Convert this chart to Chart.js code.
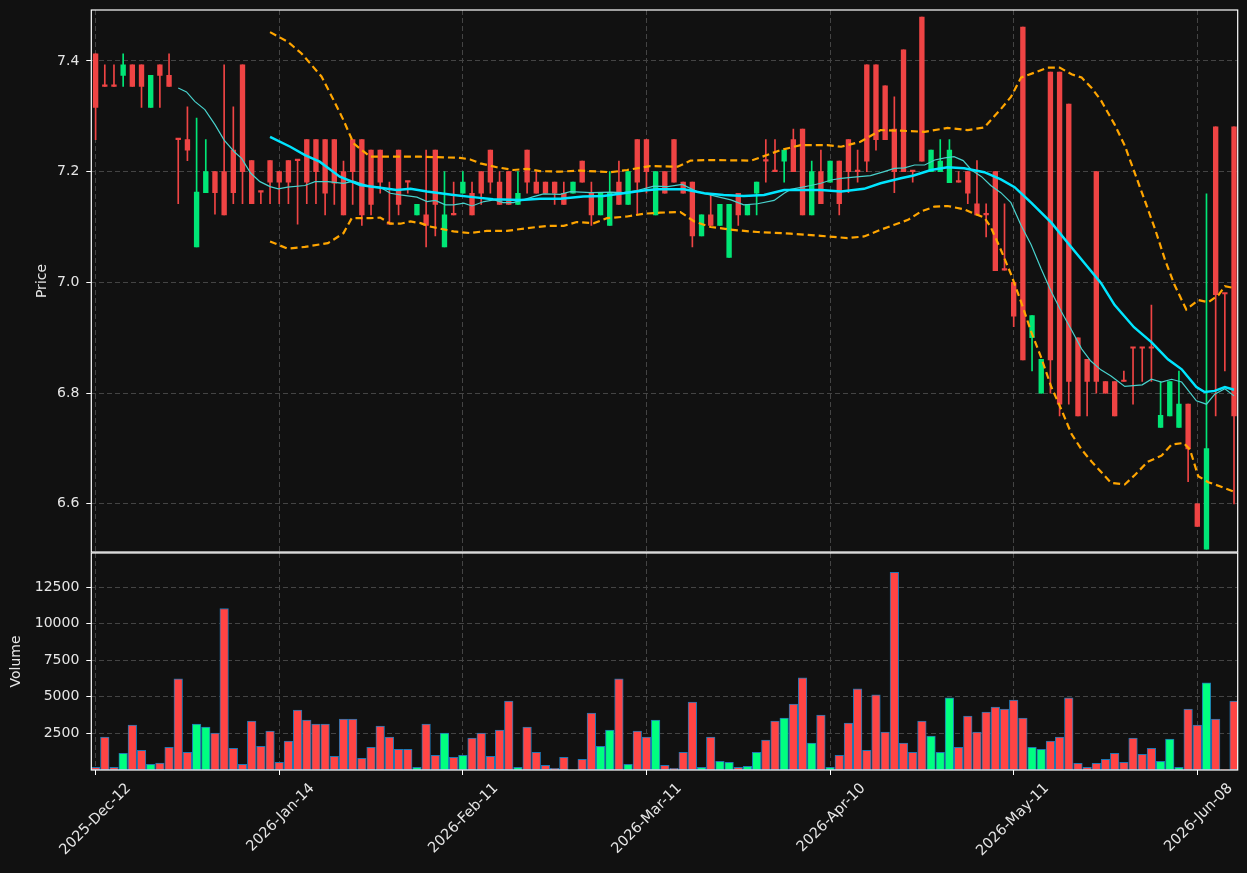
<!DOCTYPE html>
<html>
<head>
<meta charset="utf-8">
<script src="https://cdn.jsdelivr.net/npm/chart.js@4.4.0/dist/chart.umd.min.js"></script>
<style>
  body { margin: 0; background: #111111; }
  #priceChart { position: absolute; left: 0; top: 0; }
  #volChart { position: absolute; left: 0; top: 552px; }
</style>
</head>
<body>
<canvas id="priceChart" width="1247" height="553"></canvas>
<canvas id="volChart" width="1247" height="321"></canvas>
<script>
// daily candles, index 0 = 2025-Dec-12
var opens = [7.413,7.354,7.354,7.374,7.393,7.393,7.316,7.393,7.374,7.258,
  7.258,7.064,7.162,7.2,7.2,7.239,7.393,7.220,7.163,7.220,
  7.2,7.220,7.220,7.258,7.258,7.258,7.258,7.2,7.258,7.258,
  7.239,7.239,7.105,7.239,7.181,7.122,7.122,7.239,7.064,7.122,
  7.161,7.161,7.2,7.239,7.181,7.2,7.141,7.239,7.181,7.181,
  7.181,7.161,7.161,7.219,7.161,7.122,7.103,7.181,7.141,7.258,
  7.258,7.122,7.2,7.258,7.181,7.181,7.084,7.122,7.103,7.045,
  7.161,7.122,7.161,7.219,7.2,7.219,7.258,7.277,7.122,7.2,
  7.181,7.219,7.258,7.2,7.393,7.393,7.355,7.277,7.42,7.2,
  7.479,7.2,7.2,7.18,7.181,7.2,7.142,7.122,7.2,7.022,
  7.0,7.461,6.9,6.8,7.38,7.38,7.322,6.9,6.861,7.2,
  6.821,6.821,6.821,6.881,6.881,6.881,6.738,6.759,6.738,6.78,
  6.6,6.518,7.281,6.979,7.281];
var highs = [7.413,7.393,7.393,7.413,7.393,7.393,7.374,7.393,7.413,7.258,
  7.317,7.297,7.258,7.2,7.393,7.317,7.393,7.220,7.163,7.220,
  7.2,7.220,7.220,7.258,7.258,7.258,7.258,7.219,7.258,7.258,
  7.239,7.239,7.181,7.239,7.181,7.141,7.239,7.239,7.2,7.181,
  7.2,7.181,7.2,7.239,7.2,7.2,7.2,7.239,7.2,7.181,
  7.181,7.181,7.181,7.219,7.181,7.161,7.2,7.219,7.2,7.258,
  7.258,7.2,7.2,7.258,7.181,7.181,7.122,7.161,7.141,7.141,
  7.161,7.141,7.181,7.258,7.258,7.239,7.277,7.277,7.219,7.239,
  7.219,7.219,7.258,7.239,7.393,7.393,7.355,7.335,7.42,7.2,
  7.479,7.239,7.258,7.258,7.2,7.2,7.220,7.142,7.2,7.142,
  7.0,7.461,6.94,6.861,7.38,7.38,7.322,6.9,6.861,7.2,
  6.821,6.821,6.84,6.881,6.881,6.959,6.821,6.821,6.84,6.78,
  6.6,7.16,7.281,6.979,7.281];
var lows = [7.258,7.354,7.354,7.354,7.354,7.316,7.316,7.316,7.354,7.142,
  7.220,7.064,7.162,7.123,7.122,7.142,7.142,7.142,7.142,7.142,
  7.142,7.142,7.105,7.142,7.142,7.122,7.141,7.122,7.141,7.103,
  7.122,7.161,7.105,7.122,7.161,7.122,7.064,7.084,7.064,7.122,
  7.161,7.122,7.141,7.161,7.141,7.141,7.141,7.161,7.161,7.161,
  7.141,7.141,7.161,7.181,7.103,7.122,7.103,7.141,7.141,7.122,
  7.161,7.122,7.161,7.181,7.161,7.064,7.084,7.103,7.103,7.045,
  7.103,7.122,7.122,7.181,7.2,7.181,7.2,7.122,7.122,7.142,
  7.181,7.122,7.162,7.181,7.2,7.239,7.258,7.162,7.2,7.181,
  7.219,7.2,7.2,7.18,7.181,7.142,7.122,7.082,7.021,7.022,
  6.92,6.86,6.84,6.8,6.8,6.759,6.78,6.759,6.759,6.8,
  6.8,6.759,6.821,6.78,6.821,6.821,6.738,6.759,6.738,6.64,
  6.559,6.518,6.759,6.84,6.6];
var closes = [7.316,7.354,7.354,7.393,7.354,7.354,7.374,7.374,7.354,7.258,
  7.239,7.163,7.2,7.162,7.122,7.162,7.2,7.142,7.163,7.181,
  7.181,7.181,7.220,7.181,7.2,7.161,7.179,7.122,7.2,7.122,
  7.141,7.181,7.105,7.141,7.181,7.141,7.103,7.141,7.122,7.122,
  7.181,7.122,7.161,7.181,7.141,7.141,7.161,7.181,7.161,7.161,
  7.161,7.141,7.181,7.181,7.122,7.161,7.161,7.141,7.2,7.181,
  7.2,7.2,7.161,7.181,7.161,7.084,7.122,7.103,7.141,7.141,
  7.122,7.141,7.181,7.219,7.2,7.239,7.2,7.122,7.2,7.142,
  7.219,7.142,7.2,7.2,7.219,7.258,7.258,7.2,7.2,7.2,
  7.219,7.239,7.219,7.239,7.181,7.161,7.122,7.122,7.021,7.022,
  6.939,6.86,6.94,6.861,6.86,6.78,6.821,6.759,6.821,6.821,
  6.8,6.759,6.821,6.881,6.881,6.881,6.76,6.821,6.78,6.699,
  6.559,6.7,6.978,6.979,6.759];
var volumes = [183,2244,183,1145,3069,1351,389,481,1557,6229,
  1214,3137,2931,2519,11038,1488,389,3343,1626,2656,
  527,1969,4099,3412,3137,3137,939,3481,3481,801,
  1557,3000,2244,1420,1420,183,3137,1008,2519,870,
  1008,2175,2519,939,2725,4717,183,2931,1214,320,
  115,870,0,733,3893,1626,2725,6229,389,2656,
  2244,3412,320,115,1214,4649,183,2244,595,527,
  183,252,1214,2038,3343,3550,4511,6298,1832,3756,
  183,1008,3206,5542,1351,5130,2588,13511,1832,1214,
  3343,2313,1214,4924,1557,3687,2588,3962,4305,4168,
  4786,3550,1557,1420,1969,2244,4924,458,183,458,
  733,1145,527,2175,1076,1488,595,2107,183,4168,
  3069,5954,3481,20,4717];

// overlay lines: [candle index, price]
var ma20 = [[19,7.263],[21.2,7.245],[22.8,7.230],[24.4,7.218],[26.6,7.191],[28.8,7.176],[31,7.171],[32.8,7.167],
  [34.3,7.169],[36.1,7.164],[39,7.158],[41.1,7.154],[43.3,7.150],[46.3,7.149],[48.4,7.151],[50.6,7.151],
  [53.1,7.155],[55.3,7.156],[57.5,7.161],[59.7,7.166],[61.2,7.168],[64.1,7.168],[66.3,7.161],[68.4,7.158],
  [70.6,7.156],[72.8,7.158],[75,7.167],[76.8,7.167],[79,7.167],[81.2,7.164],[83.7,7.169],[85.5,7.179],
  [87.7,7.188],[89.1,7.193],[91,7.203],[92.8,7.208],[94.6,7.206],[96.8,7.199],[98.6,7.186],[100.1,7.172],
  [101.9,7.144],[104.1,7.108],[105.9,7.071],[107.7,7.035],[109.5,6.999],[111,6.959],[113.1,6.919],[115,6.892],
  [116.8,6.861],[118.3,6.843],[119.9,6.811],[120.8,6.802],[121.9,6.804],[123,6.811],[124,6.806]];
var ma10 = [[9,7.351],[9.9,7.344],[10.8,7.327],[11.9,7.312],[13,7.285],[14,7.257],[15.1,7.236],[15.9,7.224],
  [16.9,7.197],[17.9,7.182],[19,7.173],[19.9,7.169],[20.9,7.172],[22.8,7.175],[23.9,7.182],[25.3,7.182],
  [27,7.179],[28.1,7.183],[29.9,7.173],[31,7.172],[32.1,7.161],[33.2,7.158],[35,7.154],[36.1,7.146],
  [37,7.148],[38.1,7.140],[39,7.140],[40.1,7.143],[41,7.138],[42.3,7.146],[43.4,7.149],[44.4,7.144],
  [45.5,7.144],[46.6,7.149],[47.7,7.155],[48.8,7.160],[50.6,7.159],[51.7,7.164],[54,7.162],[56.1,7.163],
  [57.5,7.162],[59,7.166],[60.8,7.174],[62.3,7.173],[63.9,7.177],[65.5,7.164],[67.7,7.155],[69.2,7.149],
  [70.6,7.140],[72.1,7.142],[73.9,7.148],[75,7.161],[75.7,7.168],[77.9,7.175],[79,7.179],[80.1,7.185],
  [81.2,7.188],[82.6,7.190],[84.4,7.193],[85.9,7.200],[87,7.206],[88.1,7.207],[89.2,7.212],[90.3,7.212],
  [91.4,7.221],[92.5,7.225],[93.5,7.227],[94.5,7.220],[95.4,7.203],[96.5,7.191],[97.5,7.175],[98.6,7.162],
  [99.7,7.144],[100.8,7.103],[101.9,7.068],[103,7.024],[104.1,6.983],[105.2,6.947],[106.3,6.914],[107.4,6.880],
  [108.4,6.858],[109.5,6.842],[110.6,6.831],[112.1,6.812],[114,6.815],[115,6.825],[116.1,6.820],[117.2,6.825],
  [118.3,6.820],[119.9,6.786],[121,6.780],[121.9,6.798],[123,6.808],[124,6.795]];
var bbUpper = [[19,7.452],[20.9,7.435],[22.4,7.414],[24.6,7.372],[25.9,7.330],[27,7.293],[28.1,7.251],[29.9,7.227],
  [31.7,7.227],[35.4,7.227],[39.7,7.225],[40.8,7.222],[41.9,7.215],[43.7,7.208],[45.5,7.203],[47,7.205],
  [48.4,7.201],[50.6,7.200],[52.8,7.202],[56.1,7.199],[57.9,7.203],[60.4,7.210],[63.4,7.209],[64.8,7.220],
  [67,7.221],[71.4,7.220],[72.8,7.228],[74.6,7.239],[76.8,7.248],[79.7,7.248],[81.2,7.245],[83.3,7.254],
  [85.5,7.275],[87.7,7.274],[90.3,7.272],[92.8,7.279],[95,7.275],[96.8,7.280],[98.6,7.313],[99.7,7.335],
  [100.8,7.370],[102.3,7.379],[103.7,7.388],[105,7.388],[106.3,7.376],[107.4,7.370],[108.5,7.351],[109.5,7.329],
  [111,7.285],[112.1,7.247],[113.2,7.197],[114.3,7.147],[115.4,7.096],[116.5,7.040],[117.5,6.996],[118.8,6.951],
  [120.1,6.968],[121.2,6.964],[122.3,6.977],[123,6.993],[124,6.990]];
var bbLower = [[19,7.074],[20.9,7.061],[22.8,7.064],[25.3,7.071],[25.9,7.077],[27,7.089],[27.9,7.116],[29.9,7.116],
  [31,7.117],[32.1,7.106],[33.2,7.106],[34.3,7.110],[35.4,7.107],[36.4,7.101],[39,7.092],[40.8,7.089],
  [42.6,7.093],[44.8,7.093],[47,7.098],[49.2,7.102],[51,7.102],[52.4,7.109],[54.3,7.107],[55.7,7.116],
  [57.9,7.119],[59.7,7.124],[61.5,7.126],[63.7,7.127],[65.2,7.110],[67,7.100],[69.9,7.094],[72.1,7.091],
  [75.7,7.088],[79,7.084],[81.9,7.080],[83.7,7.083],[85.5,7.095],[87,7.104],[88.5,7.113],[89.9,7.128],
  [91.4,7.137],[92.8,7.138],[94.6,7.132],[95.7,7.124],[96.8,7.117],[97.5,7.100],[98.6,7.059],[99.7,7.015],
  [100.8,6.965],[101.9,6.911],[103,6.864],[104.1,6.811],[105.2,6.770],[106.3,6.726],[107.4,6.698],[108.5,6.676],
  [109.5,6.658],[110.6,6.638],[112.1,6.635],[113.2,6.652],[114.6,6.676],[116.1,6.687],[117.2,6.707],[118.5,6.710],
  [119.2,6.698],[120.1,6.650],[121.2,6.639],[122.6,6.631],[124,6.622]];

var tickIdx = [0, 20, 40, 60, 80, 100, 120];
var tickLabels = ['2025-Dec-12','2026-Jan-14','2026-Feb-11','2026-Mar-11','2026-Apr-10','2026-May-11','2026-Jun-08'];
var priceTicks = [6.6, 6.8, 7.0, 7.2, 7.4];
var volTicks = [2500, 5000, 7500, 10000, 12500];

var txt = '#e6e6e6';
var gridC = '#444444';
Chart.defaults.font.family = "'DejaVu Sans', sans-serif";
Chart.defaults.font.size = 14;
Chart.defaults.color = txt;

var framePlugin = {
  id: 'frame',
  afterDraw: function(chart) {
    var a = chart.chartArea;
    var c = chart.ctx;
    c.save();
    c.strokeStyle = '#ffffff';
    c.lineWidth = 1.2;
    c.strokeRect(a.left, a.top, a.right - a.left, a.bottom - a.top);
    c.restore();
  }
};

function isUp(i) {
  return closes[i] > opens[i];
}

function pts(arr) {
  return arr.map(function(p) { return {x: p[0], y: p[1]}; });
}

function lineSet(arr, color, width, dash) {
  return {
    type: 'line',
    data: pts(arr),
    borderColor: color,
    borderWidth: width,
    borderDash: dash || [],
    pointRadius: 0,
    fill: false,
    tension: 0,
    order: 0
  };
}

function xAxis(showLabels) {
  return {
    type: 'linear',
    min: -0.47,
    max: 124.4,
    offset: false,
    afterBuildTicks: function(s) {
      s.ticks = tickIdx.map(function(v) { return {value: v}; });
    },
    afterFit: function(s) {
      s.height = showLabels ? 103 : 0;
      s.paddingLeft = 0;
      s.paddingRight = 0;
    },
    grid: {
      offset: false,
      color: gridC,
      drawTicks: showLabels,
      tickLength: 5,
      tickColor: '#ffffff'
    },
    border: { display: false, dash: [5, 3] },
    ticks: {
      display: showLabels,
      autoSkip: false,
      maxRotation: 45,
      minRotation: 45,
      padding: 5,
      labelOffset: 33,
      color: txt,
      font: { size: 14.5 },
      callback: function(v) {
        var k = tickIdx.indexOf(v);
        return k >= 0 ? tickLabels[k] : '';
      }
    }
  };
}

function yFit(w) {
  return function(s) {
    s.width = w;
    s.paddingTop = 0;
    s.paddingBottom = 0;
  };
}

var candleBodies = opens.map(function(o, i) { return {x: i, y: [o, closes[i]]}; });
var candleWicks = lows.map(function(l, i) { return {x: i, y: [l, highs[i]]}; });
var candleColors = opens.map(function(o, i) { return isUp(i) ? '#00e676' : '#ef4444'; });

new Chart(document.getElementById('priceChart'), {
  type: 'bar',
  data: {
    datasets: [
      lineSet(ma20, '#00e5ff', 2.5),
      lineSet(ma10, '#48d1cc', 1.2),
      lineSet(bbUpper, '#ffa500', 2.2, [7, 4]),
      lineSet(bbLower, '#ffa500', 2.2, [7, 4]),
      {
        data: candleBodies,
        backgroundColor: candleColors,
        barThickness: 4.7,
        minBarLength: 1.5,
        grouped: false,
        order: 1
      },
      {
        data: candleWicks,
        backgroundColor: candleColors,
        barThickness: 1,
        grouped: false,
        order: 2
      }
    ]
  },
  options: {
    responsive: false,
    animation: false,
    layout: { padding: { left: 33.6, top: 10, right: 9.3, bottom: 1 } },
    plugins: { legend: { display: false }, tooltip: { enabled: false } },
    scales: {
      x: xAxis(false),
      y: {
        min: 6.513,
        max: 7.492,
        afterBuildTicks: function(s) {
          s.ticks = priceTicks.map(function(v) { return {value: v}; });
        },
        afterFit: yFit(57.7),
        grid: { color: gridC, tickLength: 5, tickColor: '#ffffff' },
        border: { display: false, dash: [5, 3] },
        ticks: {
          padding: 7,
          color: txt,
          callback: function(v) { return v.toFixed(1); }
        },
        title: { display: true, text: 'Price', color: txt, padding: 0 }
      }
    }
  },
  plugins: [framePlugin]
});

new Chart(document.getElementById('volChart'), {
  type: 'bar',
  data: {
    datasets: [{
      data: volumes.map(function(v, i) { return {x: i, y: v}; }),
      backgroundColor: volumes.map(function(v, i) { return isUp(i) ? '#00ff80' : '#ff4444'; }),
      borderColor: '#1f77b4',
      borderWidth: 1,
      borderSkipped: false,
      barThickness: 8.6,
      grouped: false
    }]
  },
  options: {
    responsive: false,
    animation: false,
    layout: { padding: { left: 8.3, top: 1, right: 9.3, bottom: 0 } },
    plugins: { legend: { display: false }, tooltip: { enabled: false } },
    scales: {
      x: xAxis(true),
      y: {
        min: 0,
        max: 14830,
        afterBuildTicks: function(s) {
          s.ticks = volTicks.map(function(v) { return {value: v}; });
        },
        afterFit: yFit(83),
        grid: { color: gridC, tickLength: 5, tickColor: '#ffffff' },
        border: { display: false, dash: [5, 3] },
        ticks: {
          padding: 7,
          color: txt,
          callback: function(v) { return String(v); }
        },
        title: { display: true, text: 'Volume', color: txt, padding: 0 }
      }
    }
  },
  plugins: [framePlugin]
});
</script>
</body>
</html>
